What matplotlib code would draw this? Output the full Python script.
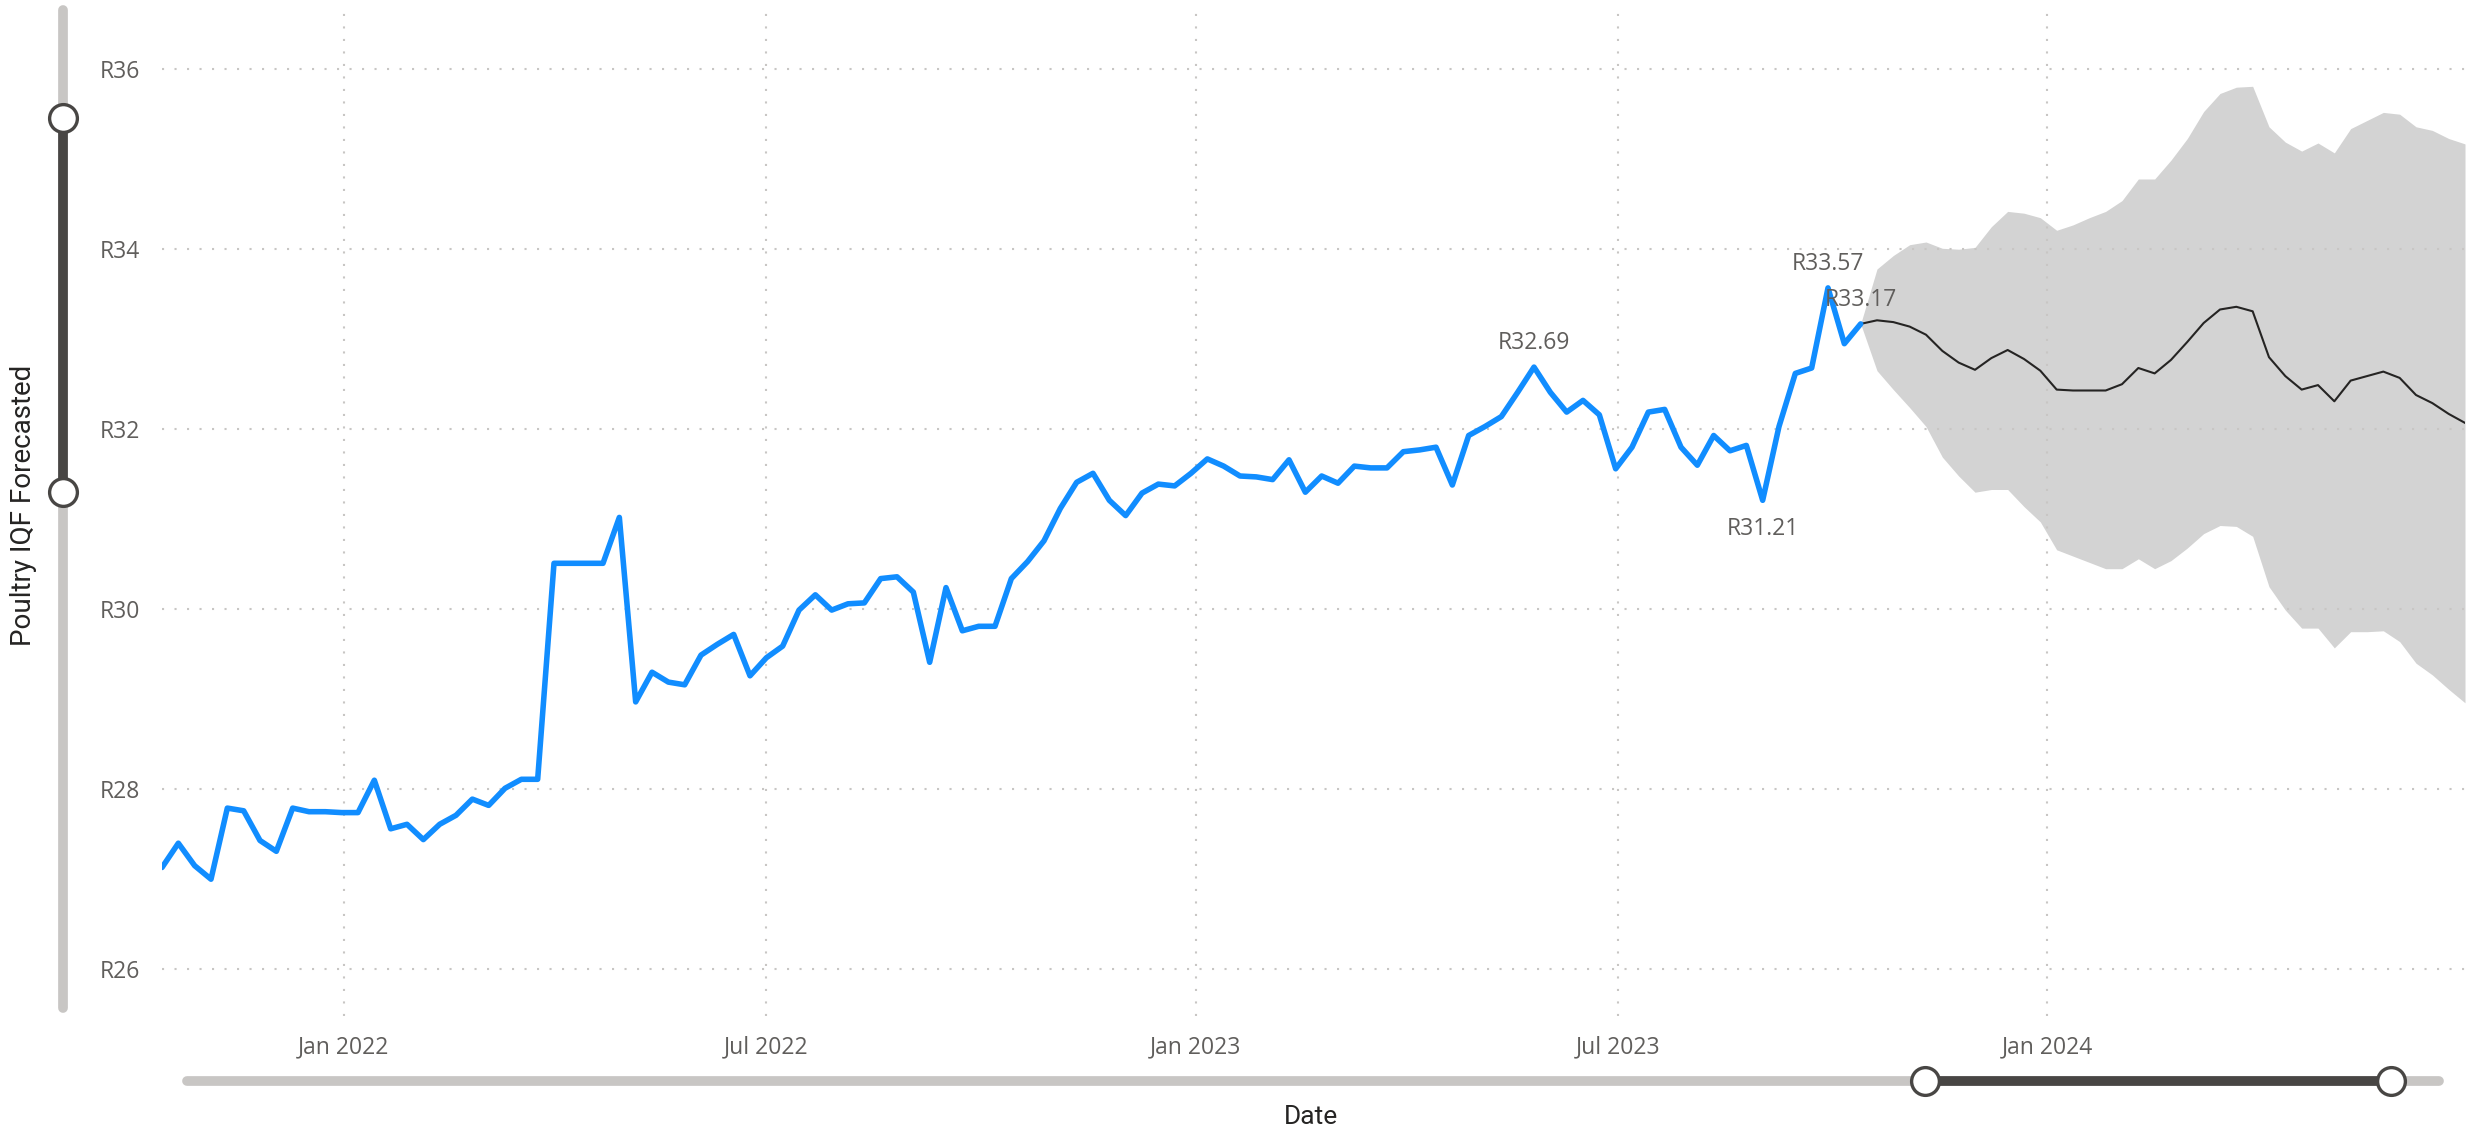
import matplotlib
matplotlib.use('Agg')
import matplotlib.pyplot as plt
import matplotlib.dates as mdates
from matplotlib.lines import Line2D
import pandas as pd

# weekly history (Rand)
hist_start = '2021-10-15'
hist_values = [27.13, 27.40, 27.15, 27.00, 27.79, 27.76, 27.43, 27.31, 27.79, 27.75,
               27.75, 27.74, 27.74, 28.10, 27.56, 27.61, 27.44, 27.61, 27.71, 27.89,
               27.82, 28.01, 28.11, 28.11, 30.51, 30.51, 30.51, 30.51,
               31.02, 28.97, 29.30, 29.19, 29.16, 29.49, 29.61, 29.72, 29.26, 29.46,
               29.59, 29.99, 30.16, 29.99, 30.06, 30.07, 30.34, 30.36, 30.19, 29.41,
               30.24, 29.76, 29.81, 29.81, 30.34, 30.53, 30.76,
               31.12, 31.41, 31.51, 31.21, 31.04, 31.29, 31.39, 31.37, 31.51, 31.67,
               31.59, 31.48, 31.47, 31.44, 31.66, 31.30, 31.48, 31.40, 31.59, 31.57,
               31.57, 31.75, 31.77, 31.80, 31.38, 31.93, 32.03, 32.14,
               32.41, 32.69, 32.41, 32.19, 32.32, 32.16, 31.56, 31.80, 32.19, 32.22,
               31.80, 31.60, 31.93, 31.76, 31.82, 31.21, 32.03, 32.62, 32.68, 33.57,
               32.95, 33.17]

# forecast (starts at the last actual week)
fc_mid = [33.17, 33.21, 33.19, 33.14, 33.05, 32.87, 32.74, 32.66, 32.79, 32.88,
          32.78, 32.65, 32.44, 32.43, 32.43, 32.43, 32.50, 32.68, 32.62, 32.77,
          32.97, 33.18, 33.33, 33.36, 33.31, 32.80, 32.59, 32.44, 32.49, 32.31,
          32.54, 32.59, 32.64, 32.57, 32.38, 32.29, 32.17, 32.07]
fc_upper = [33.17, 33.78, 33.93, 34.05, 34.08, 34.01, 34.00, 34.02, 34.25, 34.42,
            34.40, 34.35, 34.21, 34.27, 34.35, 34.42, 34.54, 34.78, 34.78, 34.99,
            35.23, 35.53, 35.73, 35.80, 35.81, 35.36, 35.19, 35.09, 35.18, 35.07,
            35.34, 35.43, 35.52, 35.50, 35.36, 35.32, 35.23, 35.17]
fc_lower = [33.17, 32.65, 32.44, 32.24, 32.03, 31.69, 31.48, 31.30, 31.33, 31.33,
            31.14, 30.97, 30.66, 30.59, 30.52, 30.45, 30.45, 30.56, 30.45, 30.54,
            30.68, 30.84, 30.93, 30.92, 30.81, 30.25, 29.99, 29.79, 29.79, 29.57,
            29.75, 29.75, 29.76, 29.64, 29.40, 29.27, 29.11, 28.96]

# points that carry a data label: (index, where)
label_points = [(84, 'above'), (98, 'below'), (102, 'above'), (104, 'above')]

yticks = [26, 28, 30, 32, 34, 36]

hist_dates = pd.date_range(hist_start, periods=len(hist_values), freq='7D')
fc_dates = pd.date_range(hist_dates[-1], periods=len(fc_mid), freq='7D')

W, H = 2474, 1134
fig = plt.figure(figsize=(W / 100, H / 100), dpi=100)
ax = fig.add_axes([162 / W, 1 - 1016 / H, (2465 - 162) / W, (1016 - 8) / H])

label_color = '#605E5C'
grid_color = '#C8C6C4'

ax.fill_between(fc_dates, fc_lower, fc_upper, color='#D3D3D3', lw=0, zorder=0.2)
ax.plot(fc_dates, fc_mid, color='#252423', lw=1.5, zorder=2)
ax.plot(hist_dates, hist_values, color='#118DFF', lw=4, solid_joinstyle='round',
        solid_capstyle='round', zorder=3)

for i, where in label_points:
    off = 17 if where == 'above' else -21
    ax.annotate('R%.2f' % hist_values[i], (hist_dates[i], hist_values[i]),
                xytext=(0, off), textcoords='offset points', ha='center', va='center',
                fontsize=16.5, color=label_color, family='Open Sans', zorder=4)

ax.set_xlim(hist_dates[0], fc_dates[-1])
ax.set_ylim(25.48, 36.68)
ax.set_yticks(yticks)
ax.set_yticklabels(['R%d' % v for v in yticks])
ax.xaxis.set_major_locator(mdates.MonthLocator(bymonth=[1, 7]))
ax.xaxis.set_major_formatter(mdates.DateFormatter('%b %Y'))

ax.set_axisbelow(True)
ax.grid(True, color=grid_color, linestyle=(0, (1, 5)), linewidth=1.5)
for s in ax.spines.values():
    s.set_visible(False)
ax.tick_params(length=0, labelsize=16.5, labelcolor=label_color)
ax.tick_params(axis='y', pad=16)
ax.tick_params(axis='x', pad=14)
for t in ax.get_xticklabels() + ax.get_yticklabels():
    t.set_family('Open Sans')

# axis titles
fig.text(24 / W, 1 - 505 / H, 'Poultry IQF Forecasted', rotation=90, ha='center',
         va='center', fontsize=20, color='#252423', family='Roboto')
fig.text(1311 / W, 1 - 1117 / H, 'Date', ha='center', va='center', fontsize=19,
         color='#252423', family='Roboto')

# zoom sliders
track = '#C8C6C4'
sel = '#484644'
fig.add_artist(Line2D([63 / W, 63 / W], [1 - 10 / H, 1 - 1008 / H], color=track, lw=7,
                      solid_capstyle='round', transform=fig.transFigure))
fig.add_artist(Line2D([63 / W, 63 / W], [1 - 118 / H, 1 - 492 / H], color=sel, lw=7,
                      transform=fig.transFigure))
fig.add_artist(Line2D([63 / W, 63 / W], [1 - 118 / H, 1 - 492 / H], ls='none', marker='o',
                      ms=20, mfc='white', mec=sel, mew=2.4, transform=fig.transFigure))
fig.add_artist(Line2D([187 / W, 2439 / W], [1 - 1081 / H, 1 - 1081 / H], color=track, lw=7,
                      solid_capstyle='round', transform=fig.transFigure))
fig.add_artist(Line2D([1925 / W, 2391 / W], [1 - 1081 / H, 1 - 1081 / H], color=sel, lw=7,
                      transform=fig.transFigure))
fig.add_artist(Line2D([1925 / W, 2391 / W], [1 - 1081 / H, 1 - 1081 / H], ls='none',
                      marker='o', ms=20, mfc='white', mec=sel, mew=2.4,
                      transform=fig.transFigure))

fig.savefig('out.png', dpi=100)
